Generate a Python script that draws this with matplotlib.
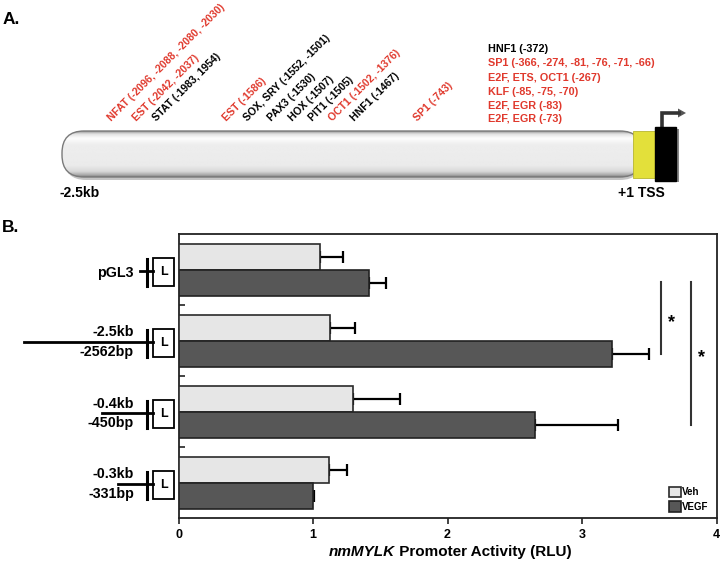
import numpy as np
import matplotlib
matplotlib.use('Agg')
import matplotlib.pyplot as plt
from matplotlib.patches import FancyBboxPatch, Rectangle, Polygon
from matplotlib.transforms import blended_transform_factory

plt.rcParams['font.family'] = ['Liberation Sans', 'DejaVu Sans']
plt.rcParams['font.weight'] = 'bold'

# ---------------- data ----------------
constructs = ['pGL3', '-2.5kb', '-0.4kb', '-0.3kb']
construct_bp = ['', '-2562bp', '-450bp', '-331bp']
series_labels = ['Veh', 'VEGF']
veh = [1.05, 1.13, 1.30, 1.12]
veh_err = [0.17, 0.18, 0.35, 0.13]
vegf = [1.42, 3.22, 2.65, 1.00]
vegf_err = [0.12, 0.28, 0.62, 0.01]
xticks = [0, 1, 2, 3, 4]
sig_pairs = [(0, 1), (0, 2)]
xlabel_italic = 'nmMYLK'
xlabel_rest = ' Promoter Activity (RLU)'

site_labels = ['NFAT (-2096, -2088, -2080, -2030)', 'EST (-2042, -2037)', 'STAT (-1983, 1954)',
               'EST (-1586)', 'SOX, SRY (-1552, -1501)', 'PAX3 (-1530)', 'HOX (-1507)',
               'PIT1 (-1505)', 'OCT1 (-1502, -1376)', 'HNF1 (-1467)', 'SP1 (-743)']
site_red = [True, True, False, True, False, False, False, False, True, False, True]
tss_labels = ['HNF1 (-372)', 'SP1 (-366, -274, -81, -76, -71, -66)', 'E2F, ETS, OCT1 (-267)',
              'KLF (-85, -75, -70)', 'E2F, EGR (-83)', 'E2F, EGR (-73)']
tss_red = [False, True, True, True, True, True]

# ---------------- layout / style ----------------
RED = '#e0392d'
site_x = [112, 137, 157, 227, 248, 272, 293, 313, 333, 355, 418]
tss_y = [49.3, 63.3, 77.7, 91.7, 106, 119.3]
line_start = [140, 24, 101.7, 118]

W, H = 720, 562
fig = plt.figure(figsize=(W / 100, H / 100), dpi=100)
ov = fig.add_axes([0, 0, 1, 1])
ov.set_xlim(0, W)
ov.set_ylim(H, 0)
ov.axis('off')

ax = fig.add_axes([178.5 / W, 44 / H, 538 / W, 284 / H])

# ---------------- panel A ----------------
ov.text(3, 20, 'A.', fontsize=12.5, va='center', ha='left')
ov.text(2, 228, 'B.', fontsize=12.5, va='center', ha='left')

for x, s, r in zip(site_x, site_labels, site_red):
    ov.text(x, 122, s, rotation=45, rotation_mode='anchor', ha='left', va='baseline',
            fontsize=7.6, color=RED if r else 'black')
for y, s, r in zip(tss_y, tss_labels, tss_red):
    ov.text(488, y, s, ha='left', va='center', fontsize=7.8, color=RED if r else 'black')

# cylinder
shadow = FancyBboxPatch((64, 134), 578, 46, boxstyle='round,pad=0,rounding_size=22',
                        facecolor='#8a8a8a', edgecolor='none', alpha=0.5, zorder=1)
ov.add_patch(shadow)
body = FancyBboxPatch((62, 131), 580, 46, boxstyle='round,pad=0,rounding_size=22',
                      facecolor='none', edgecolor='#7a7a7a', linewidth=1.0, zorder=3)
ov.add_patch(body)
t = np.linspace(0, 1, 100)
prof = np.interp(t, [0, 0.06, 0.15, 0.3, 0.75, 0.88, 0.96, 1.0],
                 [0.60, 0.88, 0.99, 0.93, 0.92, 0.85, 0.66, 0.50])
grad = np.tile(prof[:, None], (1, 10))
im = ov.imshow(grad, extent=(62, 642, 177, 131), cmap='gray', vmin=0, vmax=1,
               aspect='auto', interpolation='bilinear', zorder=2)
im.set_clip_path(body)
ov.set_xlim(0, W)
ov.set_ylim(H, 0)

ov.add_patch(Rectangle((633, 131), 22, 47, facecolor='#e3e03a', edgecolor='#b8b630', lw=0.6,
                       zorder=4))
ov.add_patch(Rectangle((676, 129), 2.5, 53, facecolor='#888888', edgecolor='none', zorder=4))
ov.add_patch(Rectangle((655, 127), 21, 54, facecolor='black', edgecolor='black', zorder=5))
ov.plot([662, 662, 679], [127, 113, 113], color='#333333', lw=2.6, solid_joinstyle='miter')
ov.add_patch(Polygon([(678, 108.5), (686, 113), (678, 117.5)], closed=True,
                     facecolor='#555555', edgecolor='none'))
ov.text(80, 193, '-2.5kb', ha='center', va='center', fontsize=10)
ov.text(641, 193, '+1 TSS', ha='center', va='center', fontsize=10)

# ---------------- panel B ----------------
y = np.arange(len(constructs))
off_v, off_g, bh = -0.175, 0.195, 0.37
b1 = ax.barh(y + off_v, veh, height=bh, color='#e6e6e6', edgecolor='#2a2a2a', lw=1.2,
             label=series_labels[0], zorder=3)
b2 = ax.barh(y + off_g, vegf, height=bh, color='#575757', edgecolor='#222222', lw=1.2,
             label=series_labels[1], zorder=3)
ax.errorbar(veh, y + off_v, xerr=[np.zeros(4), veh_err], fmt='none', ecolor='black',
            elinewidth=1.6, capsize=4.5, capthick=1.6, zorder=2)
ax.errorbar(vegf, y + off_g, xerr=[np.zeros(4), vegf_err], fmt='none', ecolor='black',
            elinewidth=1.6, capsize=4.5, capthick=1.6, zorder=2)

ax.set_xlim(0, 4)
ax.set_ylim(len(constructs) - 0.5, -0.5)
ax.set_yticks(y[:-1] + 0.5)
ax.set_yticklabels([])
ax.tick_params(axis='y', direction='in', length=4, width=1.2, color='#222222')
ax.set_xticks(xticks)
ax.set_xticklabels([str(v) for v in xticks], fontsize=9, fontweight='bold')
ax.tick_params(axis='x', direction='out', length=4, width=1.2, pad=4, color='#222222')
for sp in ax.spines.values():
    sp.set_linewidth(1.3)
    sp.set_color('#222222')

# significance
sig_x = [3.59, 3.81]
for (a, b), sx in zip(sig_pairs, sig_x):
    y0, y1 = a + off_g - 0.015, b + off_g - 0.005
    ax.plot([sx, sx], [y0, y1], color='#333333', lw=1.5, zorder=4)
    ax.text(sx + 0.075, (y0 + y1) / 2 + 0.06, '*', ha='center', va='center', fontsize=13,
            fontweight='bold')

leg = ax.legend(handles=[b1, b2], loc='lower right', bbox_to_anchor=(0.985, 0.022),
                frameon=False, fontsize=7, handlelength=1.15, handleheight=1.35,
                handletextpad=0.15, labelspacing=0.35, borderpad=0, borderaxespad=0)
for txt in leg.get_texts():
    txt.set_fontweight('bold')

# construct diagrams
tr = blended_transform_factory(ov.transData, ax.transData)
k = (len(constructs)) / (ax.get_position().height * H)
for i, (name, bp, xs) in enumerate(zip(constructs, construct_bp, line_start)):
    ov.add_patch(Rectangle((153, i - 11.5 * k), 21, 28 * k, transform=tr,
                           facecolor='white', edgecolor='black', lw=1.3))
    ov.text(163.5, i + 2.5 * k, 'L', transform=tr, ha='center', va='center', fontsize=9)
    ov.plot([146.7, 146.7], [i - 10.5 * k, i + 16.5 * k], transform=tr, color='black', lw=2.2)
    ov.plot([xs, 153], [i + 1.5 * k, i + 1.5 * k], transform=tr, color='black', lw=2.0)
    if bp:
        ov.text(134, i - 4 * k, name, transform=tr, ha='right', va='baseline', fontsize=10.3)
        ov.text(134, i + 15.5 * k, bp, transform=tr, ha='right', va='baseline', fontsize=10.3)
    else:
        ov.text(134, i + 7.5 * k, name, transform=tr, ha='right', va='baseline', fontsize=10.3)

# x label (italic gene name + rest)
ly = 1 - 551.7 / H
t1 = fig.text(0, ly, xlabel_italic, style='italic', fontweight='bold', fontsize=11, va='center')
t2 = fig.text(0, ly, xlabel_rest, fontweight='bold', fontsize=11, va='center')
fig.canvas.draw()
r = fig.canvas.get_renderer()
w1 = t1.get_window_extent(r).width
w2 = t2.get_window_extent(r).width
x0 = 450 - (w1 + w2) / 2
t1.set_x(x0 / W)
t2.set_x((x0 + w1) / W)

fig.savefig('out.png', dpi=100)
